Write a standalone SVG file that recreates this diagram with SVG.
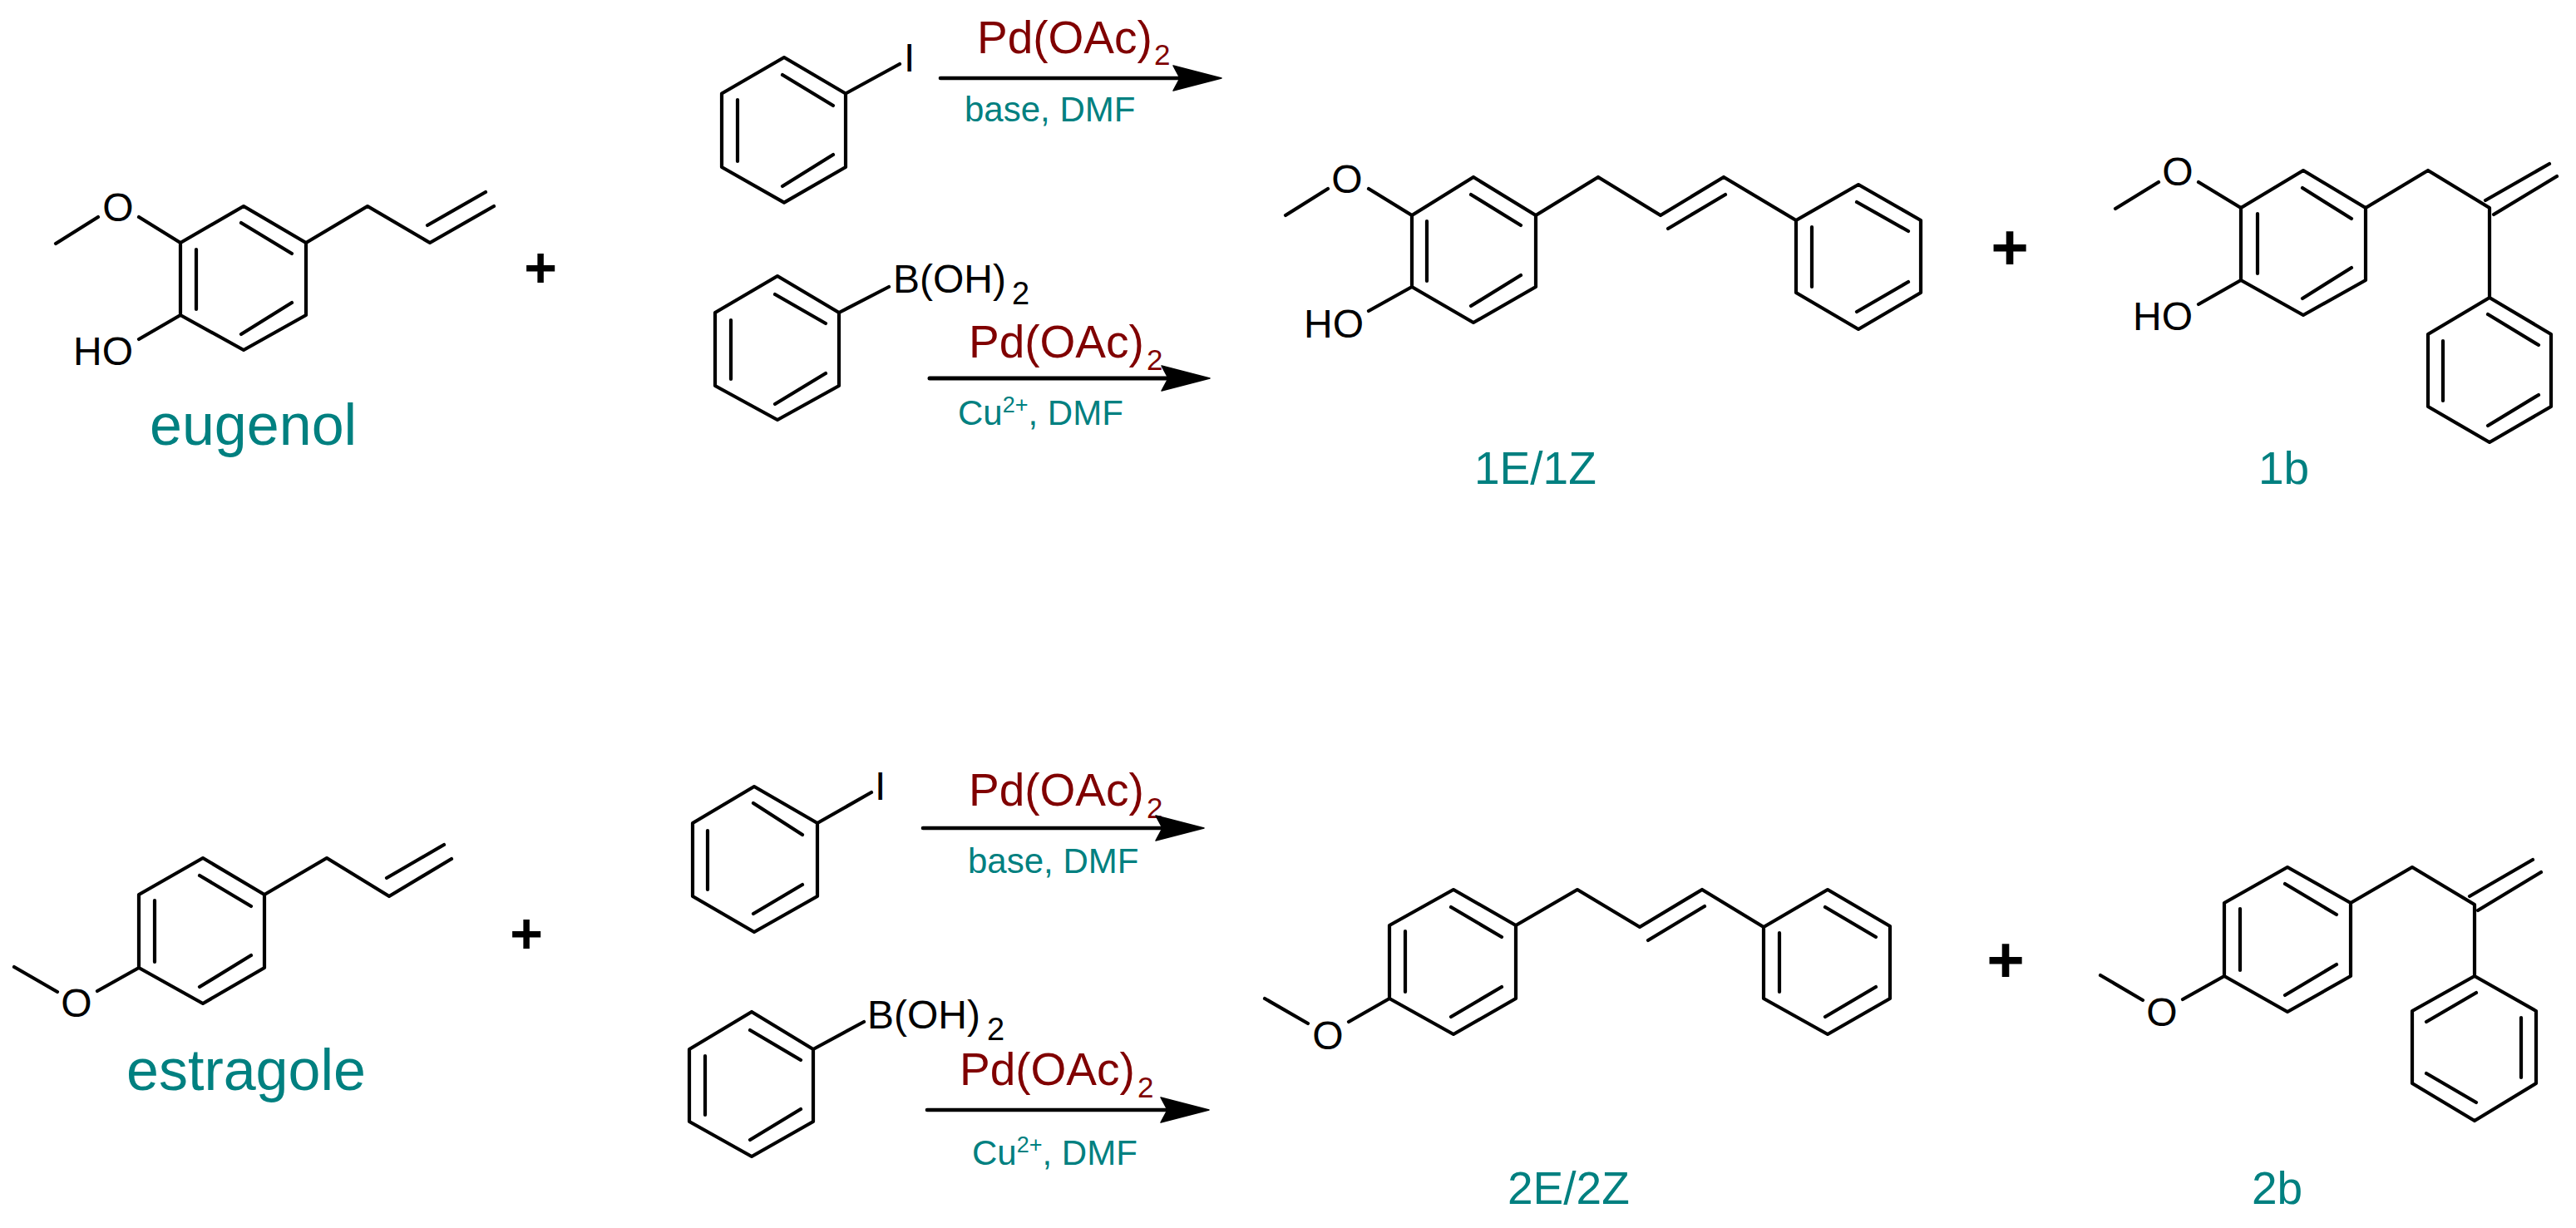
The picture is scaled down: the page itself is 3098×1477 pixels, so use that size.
<svg xmlns="http://www.w3.org/2000/svg" width="3098" height="1477" viewBox="0 0 3098 1477">
<style>
text{font-family:"Liberation Sans",Arial,sans-serif}
.b{fill:none;stroke:#000;stroke-width:4.2;stroke-linecap:round;stroke-linejoin:round}
.a{font-size:48px;fill:#000}
.m{text-anchor:middle}
.name{font-size:70px;fill:#008080}
.id{font-size:55px;fill:#008080}
.cat{font-size:55px;fill:#800000}
.cond{font-size:42px;fill:#008080}
.plus{font-size:68px;font-weight:bold;fill:#000;text-anchor:middle}
.arrow{fill:none;stroke:#000;stroke-width:4.6;stroke-linecap:round;marker-end:url(#head)}
</style>
<defs>
<marker id="head" markerUnits="userSpaceOnUse" markerWidth="62" markerHeight="34" refX="10" refY="16" orient="auto" overflow="visible">
<path d="M1,1 L59,16 L1,31 L9,16 Z" fill="#000" stroke="#000" stroke-width="1.5" stroke-linejoin="round"/>
</marker>
</defs>
<rect width="3098" height="1477" fill="#fff"/>

<g id="eugenol">
<path class="b" d="M217,292 L293,248 L368,292 L368,379 L293,421 L217,379 Z M290,268 L351,305 M236,300 L236,372 M290,402 L351,364 M368,292 L442,248 L517,292 L594,248 M514,271 L584,231 M217,292 L167,261 M118,261 L67,293 M217,379 L167,408"/>
<text class="a m" x="142" y="266">O</text>
<text class="a" x="88" y="439">HO</text>
<text class="name" x="180" y="535">eugenol</text>
</g>
<g id="plus-1"><text class="plus" x="650" y="345">+</text></g>

<g id="iodobenzene-1">
<path class="b" d="M1017,112.5 L943,69 L868,112.5 L868,201 L943,243.6 L1017,201 Z M941,90 L1002,127 M887,120 L887,194 M941,224 L1002,186 M1017,112.5 L1082,77"/>
<text class="a" x="1087" y="86">I</text>
</g>
<g id="phenylboronic-1">
<path class="b" d="M1009,376 L935,332 L860,376 L860,464 L935,505 L1009,464 Z M932,354 L993,389 M879,385 L879,456 M932,486 L993,449 M1009,376 L1069,345"/>
<text class="a" x="1074" y="352">B(OH)<tspan font-size="38" dx="7" dy="14">2</tspan></text>
</g>
<g id="cond-1">
<text class="cat" x="1175" y="64">Pd(OAc)<tspan font-size="35" dx="2" dy="14">2</tspan></text>
<text class="cond" x="1160" y="146">base, DMF</text>
</g>
<g id="cond-2">
<text class="cat" x="1165" y="430">Pd(OAc)<tspan font-size="35" dx="3" dy="15">2</tspan></text>
<text class="cond" x="1152" y="511">Cu<tspan font-size="27" dy="-15">2+</tspan><tspan dy="15">, DMF</tspan></text>
</g>

<g id="product-1EZ">
<path class="b" d="M1698,259 L1772,213 L1847,259 L1847,345 L1772,388 L1698,345 Z M1769,234 L1829,271 M1716,266 L1716,338 M1769,368 L1829,331 M1847,259 L1922,213 L1997,259 L2073,213 L2160,265 M2006,275 L2075,234 M2160,265 L2235,222 L2310,265 L2310,352 L2235,396 L2160,352 Z M2233,243 L2295,278 M2179,273 L2179,345 M2233,375 L2295,339 M1698,259 L1646,227 M1597,227 L1546,259 M1698,345 L1646,374"/>
<text class="a m" x="1620" y="232">O</text>
<text class="a" x="1568" y="406">HO</text>
<text class="id" x="1773" y="582">1E/1Z</text>
</g>
<g id="plus-2"><text class="plus" x="2417" y="324" style="font-size:78px">+</text></g>
<g id="product-1b">
<path class="b" d="M2695,250 L2770,205 L2845,250 L2845,337 L2770,379 L2695,337 Z M2769,226 L2828,263 M2715,257 L2715,329 M2769,359 L2828,322 M2845,250 L2920,205 L2994,250 L2994,358 M2989,241 L3066,197 M2999,258 L3075,212 M2994,358 L3068,402 L3068,489 L2994,532 L2920,489 L2920,402 Z M2992,378 L3053,415 M2938,410 L2938,482 M2992,512 L3053,475 M2695,250 L2644,219 M2596,219 L2544,251 M2695,337 L2644,366"/>
<text class="a m" x="2619" y="223">O</text>
<text class="a" x="2565" y="397">HO</text>
<text class="id" x="2716" y="582">1b</text>
</g>

<g id="estragole">
<path class="b" d="M167,1076 L244,1032 L318,1076 L318,1164 L244,1207 L167,1164 Z M240,1053 L302,1090 M186,1083 L186,1157 M240,1187 L302,1149 M318,1076 L393,1032 L468,1078 L543,1033 M465,1056 L534,1016 M167,1164 L117,1192 M69,1193 L17,1163"/>
<text class="a m" x="92" y="1223">O</text>
<text class="name" x="152" y="1311">estragole</text>
</g>
<g id="plus-3"><text class="plus" x="633" y="1146">+</text></g>

<g id="iodobenzene-2">
<path class="b" d="M983,990 L907,946 L833,990 L833,1078 L907,1121 L983,1078 Z M906,966 L965,1004 M851,999 L851,1070 M906,1099 L965,1064 M983,990 L1048,953"/>
<text class="a" x="1052" y="962">I</text>
</g>
<g id="phenylboronic-2">
<path class="b" d="M978,1262 L904,1217 L829,1262 L829,1349 L904,1391 L978,1349 Z M902,1239 L963,1275 M848,1270 L848,1341 M902,1371 L963,1334 M978,1262 L1039,1229"/>
<text class="a" x="1043" y="1237">B(OH)<tspan font-size="38" dx="8" dy="14">2</tspan></text>
</g>
<g id="cond-3">
<text class="cat" x="1165" y="969">Pd(OAc)<tspan font-size="35" dx="3" dy="15">2</tspan></text>
<text class="cond" x="1164" y="1050">base, DMF</text>
</g>
<g id="cond-4">
<text class="cat" x="1154" y="1305">Pd(OAc)<tspan font-size="35" dx="3" dy="15">2</tspan></text>
<text class="cond" x="1169" y="1401">Cu<tspan font-size="27" dy="-15">2+</tspan><tspan dy="15">, DMF</tspan></text>
</g>

<g id="product-2EZ">
<path class="b" d="M1671,1113 L1748,1070 L1823,1113 L1823,1201 L1748,1244 L1671,1201 Z M1745,1091 L1806,1127 M1690,1120 L1690,1193 M1745,1223 L1806,1187 M1823,1113 L1897,1070 L1972,1115 L2047,1070 L2121,1115 M1982,1131 L2050,1090 M2121,1115 L2198,1070 L2273,1114 L2273,1201 L2198,1244 L2121,1201 Z M2195,1091 L2256,1127 M2140,1122 L2140,1193 M2195,1223 L2256,1187 M1671,1201 L1622,1229 M1573,1231 L1521,1201"/>
<text class="a m" x="1597" y="1262">O</text>
<text class="id" x="1813" y="1448">2E/2Z</text>
</g>
<g id="plus-4"><text class="plus" x="2412" y="1181" style="font-size:78px">+</text></g>
<g id="product-2b">
<path class="b" d="M2675,1086 L2751,1043 L2827,1086 L2827,1174 L2751,1217 L2675,1174 Z M2748,1063 L2810,1100 M2694,1093 L2694,1167 M2748,1197 L2810,1160 M2827,1086 L2901,1043 L2976,1088 L2976,1174 M2970,1078 L3046,1034 M2980,1095 L3056,1049 M2976,1174 L3050,1216 L3050,1303 L2976,1348 L2901,1303 L2901,1216 Z M2978,1194 L2918,1229 M3032,1224 L3032,1296 M2918,1291 L2978,1326 M2675,1174 L2625,1202 M2577,1203 L2526,1173"/>
<text class="a m" x="2600" y="1234">O</text>
<text class="id" x="2708" y="1448">2b</text>
</g>

<g id="connectors">
<path class="arrow" d="M1131,94 H1420"/>
<path class="arrow" d="M1118,455 H1406" style="stroke-width:5"/>
<path class="arrow" d="M1110,996 H1399"/>
<path class="arrow" d="M1115,1335 H1405"/>
</g>
</svg>
